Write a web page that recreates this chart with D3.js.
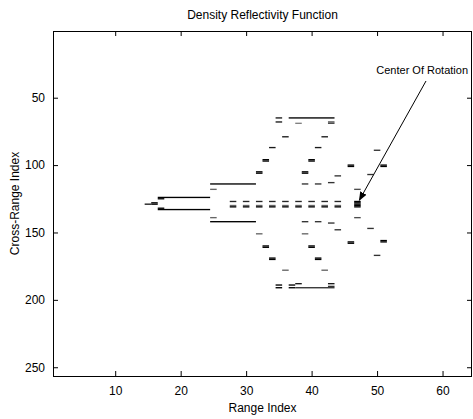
<!DOCTYPE html>
<html>
<head>
<meta charset="utf-8">
<title>Density Reflectivity Function</title>
<script src="https://d3js.org/d3.v7.min.js"></script>
<style>
  body { margin: 0; background: #fff; }
  text { font-family: "Liberation Sans", Arial, sans-serif; }
</style>
</head>
<body>
<div id="chart"></div>
<script>
// image size: range bins x cross-range bins
const nRange = 64;
const nCross = 256;
const xTicks = [10, 20, 30, 40, 50, 60];
const yTicks = [50, 100, 150, 200, 250];

// each entry: [firstCol, lastCol, row, intensity]
const noseCells = [
  [15, 15, 129, 0.9],
  [16, 16, 128, 1], [16, 16, 129, 1],
  [17, 24, 124, 1], [17, 17, 125, 1],
  [17, 24, 133, 1], [17, 17, 132, 1]
];
const fuselageCells = [
  [25, 31, 114, 1], [25, 31, 142, 1],
  [25, 25, 118, 0.6], [25, 25, 139, 0.6],
  [28, 28, 127, 0.85], [28, 28, 130, 0.6], [28, 28, 131, 1],
  [30, 30, 127, 0.85], [30, 30, 130, 0.6], [30, 30, 131, 1],
  [32, 32, 127, 0.85], [32, 32, 130, 0.6], [32, 32, 131, 1],
  [34, 34, 127, 0.85], [34, 34, 130, 0.6], [34, 34, 131, 1],
  [36, 36, 127, 0.85], [36, 36, 130, 0.6], [36, 36, 131, 1],
  [38, 38, 127, 0.85], [38, 38, 130, 0.6], [38, 38, 131, 1],
  [40, 40, 127, 0.85], [40, 40, 130, 0.6], [40, 40, 131, 1],
  [42, 42, 127, 0.85], [42, 42, 130, 0.6], [42, 42, 131, 1],
  [44, 44, 127, 0.85], [44, 44, 130, 0.6], [44, 44, 131, 1]
];
const upperWingCells = [
  [35, 35, 65, 0.9], [35, 35, 68, 0.9],
  [37, 43, 65, 1],
  [38, 38, 69, 0.5], [43, 43, 68, 0.7], [43, 43, 69, 0.7],
  [36, 36, 79, 0.9], [42, 42, 79, 0.9],
  [34, 34, 87, 0.9], [41, 41, 87, 0.9],
  [33, 33, 96, 1], [33, 33, 97, 1], [40, 40, 96, 1], [40, 40, 97, 1],
  [32, 32, 105, 1], [32, 32, 106, 1], [39, 39, 105, 1], [39, 39, 106, 1],
  [39, 39, 114, 0.8], [41, 41, 114, 0.8], [43, 43, 113, 0.8]
];
const lowerWingCells = [
  [39, 39, 142, 0.8], [41, 41, 142, 0.8], [43, 43, 143, 0.8],
  [32, 32, 151, 0.6], [39, 39, 151, 0.6],
  [33, 33, 160, 1], [33, 33, 161, 1], [40, 40, 160, 1], [40, 40, 161, 1],
  [34, 34, 169, 1], [34, 34, 170, 1], [41, 41, 169, 1], [41, 41, 170, 1],
  [36, 36, 178, 0.6], [42, 42, 178, 0.6],
  [38, 38, 188, 0.9],
  [35, 35, 189, 1], [35, 35, 191, 1],
  [37, 37, 189, 1], [37, 37, 191, 1],
  [38, 43, 191, 0.8],
  [43, 43, 188, 0.9], [43, 43, 190, 0.8]
];
const tailCells = [
  [44, 44, 108, 0.8], [46, 46, 100, 1], [46, 46, 101, 1],
  [44, 44, 148, 0.8], [46, 46, 157, 1], [46, 46, 158, 1],
  [47, 47, 118, 0.7], [47, 47, 139, 0.7],
  [47, 47, 127, 1], [47, 47, 128, 1], [47, 47, 129, 1], [47, 47, 130, 1], [47, 47, 131, 1],
  [50, 50, 89, 0.8], [49, 49, 107, 0.8], [51, 51, 100, 1], [51, 51, 101, 1],
  [50, 50, 167, 0.8], [49, 49, 147, 0.8], [51, 51, 156, 1], [51, 51, 157, 1]
];

const cells = [].concat(noseCells, fuselageCells, upperWingCells, lowerWingCells, tailCells);

let W = 473, H = 419;
let margin = {top: 31, right: 1, bottom: 43, left: 53};

let svg = d3.select("#chart").append("svg")
    .attr("width", W)
    .attr("height", H);

let x = d3.scaleLinear().domain([0.5, nRange + 0.5]).range([margin.left, W - margin.right]);
let y = d3.scaleLinear().domain([0.5, nCross + 0.5]).range([margin.top, H - margin.bottom]);
let shade = d3.scaleLinear().domain([0, 1]).range(["#ffffff", "#000000"]);

// image cells
svg.append("g").selectAll("rect")
    .data(cells)
    .enter().append("rect")
    .attr("x", d => x(d[0] - 0.5))
    .attr("width", d => x(d[1] + 0.5) - x(d[0] - 0.5))
    .attr("y", d => y(d[2] - 0.5))
    .attr("height", d => y(d[2] + 0.5) - y(d[2] - 0.5))
    .attr("fill", d => shade(d[3]));

// axes with inward ticks, MATLAB style
let x0 = margin.left, x1 = W - margin.right, y0 = margin.top, y1 = H - margin.bottom;

svg.append("g")
    .attr("transform", "translate(0," + y1 + ")")
    .call(d3.axisBottom(x).tickValues(xTicks).tickSize(-5).tickPadding(10).tickSizeOuter(0));
svg.append("g")
    .attr("transform", "translate(0," + y0 + ")")
    .call(d3.axisTop(x).tickValues(xTicks).tickSize(-5).tickFormat("").tickSizeOuter(0));
svg.append("g")
    .attr("transform", "translate(" + x0 + ",0)")
    .call(d3.axisLeft(y).tickValues(yTicks).tickSize(-5).tickPadding(8).tickSizeOuter(0));
svg.append("g")
    .attr("transform", "translate(" + x1 + ",0)")
    .call(d3.axisRight(y).tickValues(yTicks).tickSize(-5).tickFormat("").tickSizeOuter(0));

svg.selectAll(".domain").remove();
svg.selectAll(".tick line").attr("stroke", "#000");
svg.selectAll(".tick text")
    .attr("font-family", "'Liberation Sans', Arial, sans-serif")
    .attr("font-size", "12px")
    .attr("fill", "#000");

svg.append("rect")
    .attr("x", x0 + 0.5).attr("y", y0 + 0.5)
    .attr("width", x1 - x0 - 1).attr("height", y1 - y0)
    .attr("fill", "none").attr("stroke", "#000");

// titles
svg.append("text")
    .attr("x", (x0 + x1) / 2).attr("y", 19)
    .attr("text-anchor", "middle").attr("font-size", "12px")
    .text("Density Reflectivity Function");
svg.append("text")
    .attr("x", (x0 + x1) / 2).attr("y", 412)
    .attr("text-anchor", "middle").attr("font-size", "12px")
    .text("Range Index");
svg.append("text")
    .attr("transform", "translate(19," + ((y0 + y1) / 2) + ") rotate(-90)")
    .attr("text-anchor", "middle").attr("font-size", "12px")
    .text("Cross-Range Index");

// annotation
svg.append("defs").append("marker")
    .attr("id", "head")
    .attr("viewBox", "0 0 10 10").attr("refX", 9).attr("refY", 5)
    .attr("markerWidth", 9).attr("markerHeight", 9).attr("orient", "auto")
    .append("path").attr("d", "M0,1 L10,5 L0,9 Z").attr("fill", "#000");

svg.append("text")
    .attr("x", 468).attr("y", 74)
    .attr("text-anchor", "end").attr("font-size", "11px")
    .text("Center Of Rotation");
svg.append("line")
    .attr("x1", 426).attr("y1", 81)
    .attr("x2", x(47.3)).attr("y2", y(126))
    .attr("stroke", "#000").attr("stroke-width", 1)
    .attr("marker-end", "url(#head)");
</script>
</body>
</html>
